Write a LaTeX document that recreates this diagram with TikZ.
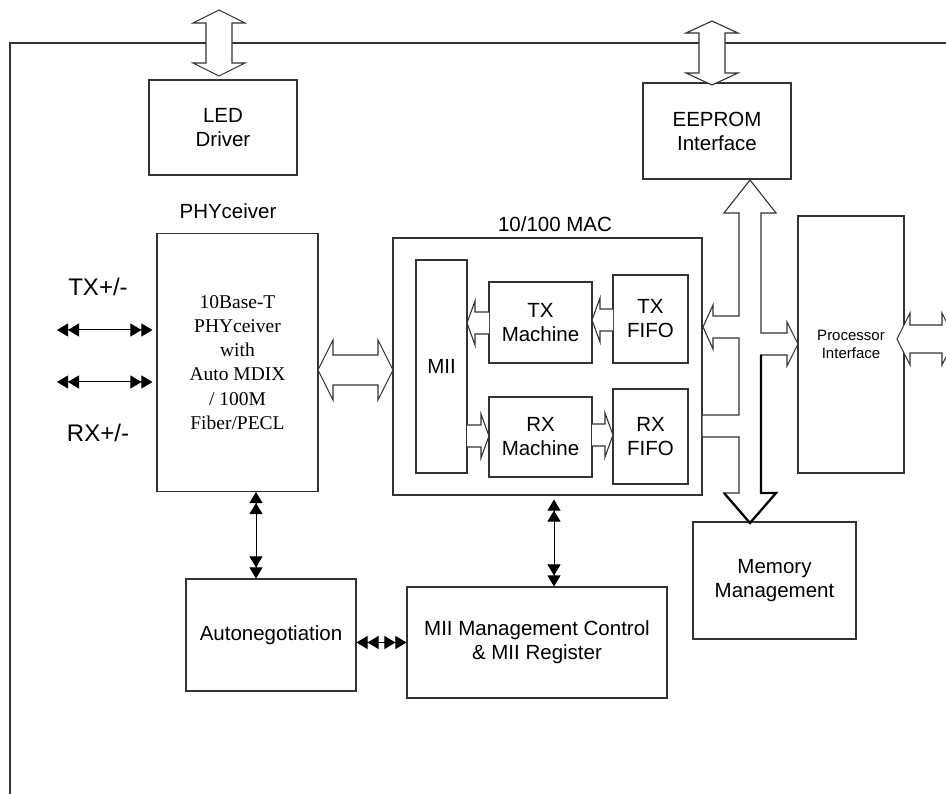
\documentclass[tikz,border=0pt]{standalone}
\usepackage{fontspec}
\setmainfont{Liberation Sans}
\newfontfamily\physerif{Liberation Serif}
\usetikzlibrary{arrows.meta}
\begin{document}
\begin{tikzpicture}[x=1pt,y=-1pt,
  >={Triangle[length=11pt,width=13pt,sep=0pt]},
  box/.style={draw=black!80, line width=1.1pt, inner sep=0pt, align=center,
              font=\fontsize{20.5}{24}\selectfont},
  lbl/.style={inner sep=0pt, font=\fontsize{20.5}{24}\selectfont},
  barrow/.style={draw=black!80, line width=1.1pt, fill=white, line join=miter},
  conn/.style={draw=black, line width=1pt, <<->>},
  frameline/.style={draw=black!80, line width=1.2pt}]

\useasboundingbox (0,0) rectangle (946,794);
\clip (0,0) rectangle (946,794);

% outer frame
\draw[frameline] (10,794) -- (10,43) -- (946,43);

% boxes
\node[box, minimum width=148pt, minimum height=95pt] (led) at (223,127.5) {LED\\Driver};
\node[box, minimum width=148pt, minimum height=96pt] (eeprom) at (717,131) {EEPROM\\Interface};
\node[box, minimum width=161pt, minimum height=258pt,
      font=\physerif\fontsize{19.5}{24.2}\selectfont] (phy) at (237.5,362.5)
      {10Base-T\\PHYceiver\\with\\Auto MDIX\\/ 100M\\Fiber/PECL};
\node[box, minimum width=309pt, minimum height=257pt] (mac) at (547.5,366.5) {};
\node[box, minimum width=51pt, minimum height=213pt] (mii) at (441.5,366.5) {MII};
\node[box, minimum width=103pt, minimum height=81pt] (txm) at (540.5,322.5) {TX\\Machine};
\node[box, minimum width=75pt, minimum height=88pt] (txf) at (650.5,319) {TX\\FIFO};
\node[box, minimum width=103pt, minimum height=80pt] (rxm) at (540.5,437) {RX\\Machine};
\node[box, minimum width=75pt, minimum height=95pt] (rxf) at (650.5,436.5) {RX\\FIFO};
\node[box, minimum width=106pt, minimum height=257pt,
      font=\fontsize{15}{18}\selectfont] (proc) at (851,344.5) {Processor\\Interface};
\node[box, minimum width=163pt, minimum height=117pt] (mem) at (774.5,580.5) {Memory\\Management};
\node[box, minimum width=170pt, minimum height=112pt] (auto) at (271,635) {Autonegotiation};
\node[box, minimum width=260pt, minimum height=111pt] (miireg) at (537,642.5) {MII Management Control\\\& MII Register};

% labels
\node[lbl] (phylbl) at (228,211) {PHYceiver};
\node[lbl] (maclbl) at (555,224) {10/100 MAC};
\node[inner sep=0pt, font=\fontsize{24}{28}\selectfont] (txlbl) at (98,287) {TX+/-};
\node[inner sep=0pt, font=\fontsize{24}{28}\selectfont] (rxlbl) at (98,433) {RX+/-};

% block arrows through the frame
\draw[barrow] (219,10) -- (245,23) -- (232,23) -- (232,63) -- (245,63) -- (219,76)
  -- (193,63) -- (206,63) -- (206,23) -- (193,23) -- cycle;
\draw[barrow] (712,21) -- (738,33) -- (725,33) -- (725,73) -- (738,73) -- (712,85)
  -- (686,73) -- (699,73) -- (699,33) -- (686,33) -- cycle;

% PHY <-> MAC
\draw[barrow] (318,370) -- (333,340) -- (333,355) -- (378,355) -- (378,340) -- (393,370)
  -- (378,400) -- (378,385) -- (333,385) -- (333,400) -- cycle;

% internal MAC arrows
\draw[barrow] (489,312) -- (475,312) -- (475,301) -- (467,323) -- (475,345) -- (475,334) -- (489,334);
\draw[barrow] (613,309) -- (600,309) -- (600,298) -- (592,320) -- (600,342) -- (600,331) -- (613,331);
\draw[barrow] (467,425) -- (481,425) -- (481,414) -- (489,436) -- (481,458) -- (481,447) -- (467,447);
\draw[barrow] (592,424) -- (605,424) -- (605,413) -- (613,435) -- (605,457) -- (605,446) -- (592,446);

% internal bus
\draw[barrow] (750,180) -- (776,213) -- (761,213) -- (761,333) -- (787,333) -- (787,322)
  -- (798,344) -- (787,366) -- (787,355) -- (761,355) -- (761,493) -- (776,493)
  -- (750,523) -- (724,493) -- (739,493) -- (739,437) -- (702,437) -- (702,415)
  -- (739,415) -- (739,338) -- (713,338) -- (713,349) -- (703,327) -- (713,305)
  -- (713,316) -- (739,316) -- (739,213) -- (724,213) -- cycle;
\draw[black, line width=2.3pt, line join=miter] (761,355) -- (761,493) -- (776,493)
  -- (750,523) -- (724,493);

% processor external interface
\draw[barrow] (897,339) -- (910,313) -- (910,325) -- (942,325) -- (942,313) -- (955,339)
  -- (942,365) -- (942,353) -- (910,353) -- (910,365) -- cycle;

% line connectors
\coordinate (txL) at (57,330);
\coordinate (rxL) at (57,382);
\draw[conn] (txL) -- ([xshift=-4pt]txL -| phy.west);
\draw[conn] (rxL) -- ([xshift=-4pt]rxL -| phy.west);
\draw[conn] ([xshift=18.5pt]phy.south) -- ([xshift=18.5pt]phy.south |- auto.north);
\draw[conn, shorten <=4pt] ([xshift=6.5pt]mac.south) -- ([xshift=6.5pt]mac.south |- miireg.north);
\draw[conn] (auto.east |- miireg.west) -- (miireg.west);

\end{tikzpicture}
\end{document}
